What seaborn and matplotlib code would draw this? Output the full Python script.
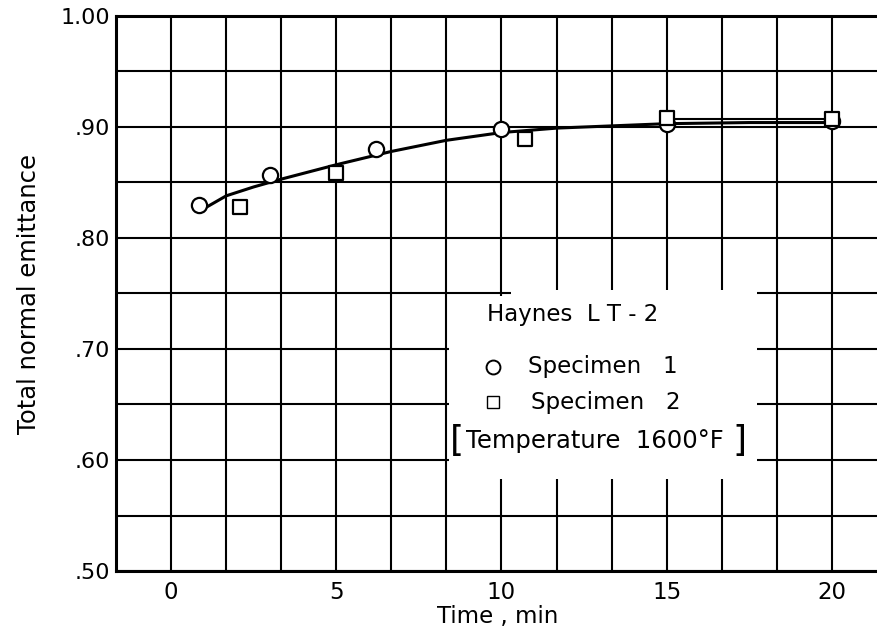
import matplotlib
matplotlib.use("Agg")
import matplotlib.pyplot as plt
import numpy as np
import seaborn as sns
from matplotlib.patches import Rectangle

sns.set_style("white")
plt.rcParams['font.family'] = ['DejaVu Sans']
plt.rcParams.update({'text.color': 'black', 'axes.labelcolor': 'black',
                     'xtick.color': 'black', 'ytick.color': 'black'})

spec1_t = [0.85, 3.0, 6.2, 10.0, 15.0, 20.0]
spec1_e = [0.830, 0.857, 0.880, 0.898, 0.903, 0.905]
spec2_t = [2.1, 5.0, 10.7, 15.0, 20.0]
spec2_e = [0.828, 0.859, 0.889, 0.908, 0.907]

# faired curve
curve_t = [0.85, 1.67, 2.5, 3.33, 5.0, 6.67, 8.33, 10.0, 11.67, 13.33, 15.0, 17.5, 20.0]
curve_e = [0.824, 0.838, 0.846, 0.853, 0.866, 0.878, 0.888, 0.895, 0.899, 0.901, 0.903, 0.904, 0.904]
upper_t = [15.0, 20.0]
upper_e = [0.907, 0.907]

xticks = [0, 5, 10, 15, 20]
yticks = [0.5, 0.6, 0.7, 0.8, 0.9, 1.0]
ylabels = ['.50', '.60', '.70', '.80', '.90', '1.00']

fig = plt.figure(figsize=(8.78, 6.33), dpi=100)
ax = fig.add_axes([116/878, 1 - 571/633, 1 - 116/878 + 0.002, (571 - 16)/633])

# grid
for gx in np.arange(-5/3, 22, 5/3):
    ax.axvline(gx, color='black', lw=1.5, zorder=1)
for gy in np.arange(0.5, 1.001, 0.05):
    ax.axhline(gy, color='black', lw=1.5, zorder=1)

# white area behind the legend text
ax.add_patch(Rectangle((8.42, 0.583), 9.3, 0.165, facecolor='white', edgecolor='none', zorder=2))
ax.add_patch(Rectangle((10.3, 0.74), 7.42, 0.013, facecolor='white', edgecolor='none', zorder=2))

sns.lineplot(x=curve_t, y=curve_e, color='black', lw=2.2, ax=ax, zorder=3)
sns.lineplot(x=upper_t, y=upper_e, color='black', lw=1.5, ax=ax, zorder=3)
sns.scatterplot(x=spec1_t, y=spec1_e, marker='o', s=120, facecolor='white',
                edgecolor='black', linewidth=1.6, ax=ax, zorder=4)
sns.scatterplot(x=spec2_t, y=spec2_e, marker='s', s=95, facecolor='white',
                edgecolor='black', linewidth=1.6, ax=ax, zorder=5)

# legend drawn as text in the open area
fs = 16.5
ax.text(9.55, 0.731, 'Haynes  L T - 2', fontsize=fs, va='center', zorder=6)
ax.plot([9.73], [0.684], marker='o', ms=10, mfc='white', mec='black', mew=1.4, zorder=6)
ax.text(10.8, 0.684, 'Specimen   1', fontsize=fs, va='center', zorder=6)
ax.plot([9.73], [0.652], marker='s', ms=8, mfc='white', mec='black', mew=1.0, zorder=6)
ax.text(10.9, 0.652, 'Specimen   2', fontsize=fs, va='center', zorder=6)
ax.text(8.45, 0.617, '[', fontsize=26, va='center', zorder=6)
ax.text(8.92, 0.617, 'Temperature  1600\u00b0F', fontsize=17.5, va='center', zorder=6)
ax.text(17.42, 0.617, ']', fontsize=26, va='center', ha='right', zorder=6)

ax.set_xlim(-5/3, 21.45)
ax.set_ylim(0.5, 1.0)
ax.set_xticks(xticks)
ax.set_xticklabels([str(t) for t in xticks], fontsize=16.5)
ax.set_yticks(yticks)
ax.set_yticklabels(ylabels, fontsize=16)
ax.tick_params(axis='x', length=0, pad=7)
ax.tick_params(axis='y', length=0, pad=4)
ax.set_xlabel('Time , min', fontsize=16.5, labelpad=1)
ax.set_ylabel('Total normal emittance', fontsize=17.5, labelpad=14)

for side in ['left', 'bottom', 'top']:
    ax.spines[side].set_linewidth(2.2)
    ax.spines[side].set_color('black')
ax.spines['right'].set_visible(False)

fig.savefig('out.png', dpi=100)
